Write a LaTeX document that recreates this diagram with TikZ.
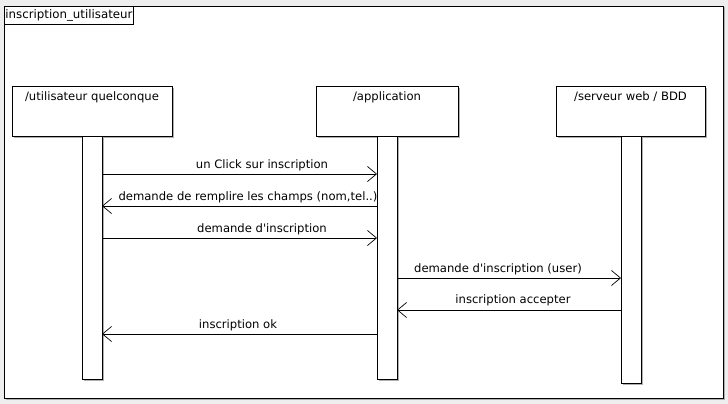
\documentclass[tikz,border=0pt]{standalone}
\usepackage{fontspec}
\setmainfont{DejaVu Sans}[Ligatures=TeXOff]
\usetikzlibrary{arrows.meta}
\definecolor{bg}{HTML}{EEEEEE}
\definecolor{shad}{HTML}{B0B0B0}
\begin{document}
\begin{tikzpicture}[x=1pt,y=-1pt,
  box/.style={draw=black,line width=0.8pt,fill=white},
  shadowed/.style={preaction={fill=shad,transform canvas={xshift=1.5pt,yshift=-1.5pt}}},
  msg/.style={draw=black,line width=0.8pt,-{Straight Barb[length=9pt,width=15pt,line width=0.7pt]}},
  lbl/.style={font=\fontsize{11.6}{13}\selectfont,inner sep=0pt,anchor=base}]
\fill[bg] (0,0) rectangle (728,404);
\useasboundingbox (0,0) rectangle (728,404);
% frame
\draw[box,shadowed] (4,6) rectangle (723,398);
\node[draw=black,line width=0.8pt,fill=white,inner xsep=1pt,inner ysep=0pt,anchor=north west,minimum height=18pt,text height=9pt,text depth=3pt,font=\fontsize{11.8}{13}\selectfont] (title) at (4,6) {inscription\_utilisateur};
% lifeline heads
\node[box,shadowed,minimum width=160pt,minimum height=50pt,anchor=north west] (u) at (12,86) {};
\node[lbl] at (92,100) {/utilisateur quelconque};
\node[box,shadowed,minimum width=142pt,minimum height=50pt,anchor=north west] (a) at (316,86) {};
\node[lbl] at (387,100) {/application};
\node[box,shadowed,minimum width=149pt,minimum height=50pt,anchor=north west] (s) at (556,86) {};
\node[lbl] at (630.5,100) {/serveur web / BDD};
% activation bars
\node[box,shadowed,minimum width=20pt,minimum height=243pt,anchor=north west] (ub) at (82,136) {};
\node[box,shadowed,minimum width=20pt,minimum height=243pt,anchor=north west] (ab) at (377,136) {};
\node[box,shadowed,minimum width=20pt,minimum height=247pt,anchor=north west] (sb) at (621,136) {};
% messages
\coordinate (m1s) at (102,174); \coordinate (m1e) at (377,174);
\draw[msg] (m1s) -- (m1e);
\node[lbl] at (262,168) {un Click sur inscription};
\coordinate (m2s) at (377,206); \coordinate (m2e) at (102,206);
\draw[msg] (m2s) -- (m2e);
\node[lbl] at (248,200) {demande de remplire les champs (nom,tel..)};
\coordinate (m3s) at (102,238); \coordinate (m3e) at (377,238);
\draw[msg] (m3s) -- (m3e);
\node[lbl] at (262,232) {demande d'inscription};
\coordinate (m4s) at (397,278); \coordinate (m4e) at (621,278);
\draw[msg] (m4s) -- (m4e);
\node[lbl] at (498,272) {demande d'inscription (user)};
\coordinate (m5s) at (621,310); \coordinate (m5e) at (397,310);
\draw[msg] (m5s) -- (m5e);
\node[lbl] at (513,303) {inscription accepter};
\coordinate (m6s) at (377,334); \coordinate (m6e) at (102,334);
\draw[msg] (m6s) -- (m6e);
\node[lbl] at (238,328) {inscription ok};
\end{tikzpicture}
\end{document}
